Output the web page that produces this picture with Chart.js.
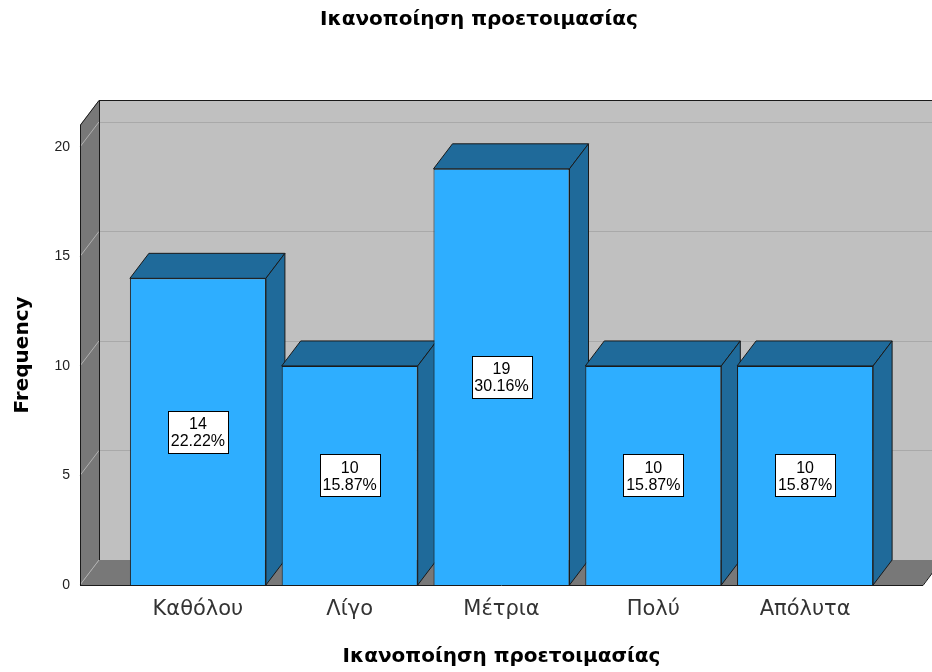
<!DOCTYPE html>
<html>
<head>
<meta charset="utf-8">
<script src="https://cdn.jsdelivr.net/npm/chart.js@4.4.1/dist/chart.umd.min.js"></script>
<style>
  html, body { margin: 0; padding: 0; background: #fff; }
</style>
</head>
<body>
<canvas id="freqChart" width="932" height="672"></canvas>
<script>
// Data
const categories = ['Καθόλου', 'Λίγο', 'Μέτρια', 'Πολύ', 'Απόλυτα'];
const counts = [14, 10, 19, 10, 10];
const percents = ['22.22%', '15.87%', '30.16%', '15.87%', '15.87%'];
const yStep = 5;
const yMax = 21;

const chartTitle = 'Ικανοποίηση προετοιμασίας';
const FONT = "'DejaVu Sans', sans-serif";
const ARIAL = "'Liberation Sans', Arial, sans-serif";

// 3D look
const depthX = 19, depthY = 25, wallGap = 42;
const colors = {
  front: '#2eaeff',
  shade: '#1f6a9a',
  backWall: '#c0c0c0',
  sideWall: '#787878',
  gridBack: '#a9a9a9',
  gridSide: '#b0b0b0',
  edge: '#1a1a1a'
};

function poly(ctx, pts, fill, stroke) {
  ctx.beginPath();
  ctx.moveTo(pts[0][0], pts[0][1]);
  for (let i = 1; i < pts.length; i++) ctx.lineTo(pts[i][0], pts[i][1]);
  ctx.closePath();
  if (fill) { ctx.fillStyle = fill; ctx.fill(); }
  if (stroke) { ctx.strokeStyle = stroke; ctx.lineWidth = 1; ctx.stroke(); }
}

const box3d = {
  id: 'box3d',
  beforeDatasetsDraw(chart) {
    const { ctx, chartArea: a, scales: { y } } = chart;
    const xl = a.left - wallGap, xr = a.right + wallGap;
    const y0 = y.getPixelForValue(0), yt = a.top;
    ctx.save();

    // back wall
    poly(ctx, [[xl + depthX, yt - depthY], [xr + depthX, yt - depthY],
               [xr + depthX, y0 - depthY], [xl + depthX, y0 - depthY]], colors.backWall);
    ctx.lineWidth = 1;
    ctx.strokeStyle = colors.gridBack;
    y.ticks.forEach(t => {
      if (t.value === 0) return;
      const py = Math.round(y.getPixelForValue(t.value) - depthY) + 0.5;
      ctx.beginPath();
      ctx.moveTo(xl + depthX, py);
      ctx.lineTo(xr + depthX, py);
      ctx.stroke();
    });

    // left wall
    poly(ctx, [[xl, yt], [xl + depthX, yt - depthY], [xl + depthX, y0 - depthY], [xl, y0]], colors.sideWall);
    // floor
    poly(ctx, [[xl, y0], [xl + depthX, y0 - depthY], [xr + depthX, y0 - depthY], [xr, y0]], colors.sideWall);

    ctx.strokeStyle = colors.gridSide;
    y.ticks.forEach(t => {
      const py = y.getPixelForValue(t.value);
      ctx.beginPath();
      ctx.moveTo(xl, py);
      ctx.lineTo(xl + depthX, py - depthY);
      ctx.stroke();
    });

    // frame edges
    ctx.strokeStyle = colors.edge;
    ctx.beginPath();
    ctx.moveTo(xl + 0.5, y0);
    ctx.lineTo(xl + 0.5, yt);
    ctx.lineTo(xl + depthX, yt - depthY + 0.5);
    ctx.lineTo(xr + depthX, yt - depthY + 0.5);
    ctx.moveTo(xl + depthX + 0.5, yt - depthY);
    ctx.lineTo(xl + depthX + 0.5, y0 - depthY);
    ctx.moveTo(xl, y0 + 0.5);
    ctx.lineTo(xr, y0 + 0.5);
    ctx.lineTo(xr + depthX, y0 - depthY);
    ctx.stroke();

    // bar tops and sides
    chart.getDatasetMeta(0).data.forEach(bar => {
      const { x, y: top, width, base } = bar.getProps(['x', 'y', 'width', 'base'], true);
      const l = x - width / 2, r = x + width / 2;
      poly(ctx, [[l, top], [l + depthX, top - depthY], [r + depthX, top - depthY], [r, top]], colors.shade, colors.edge);
      poly(ctx, [[r, top], [r + depthX, top - depthY], [r + depthX, base - depthY], [r, base]], colors.shade, colors.edge);
    });
    ctx.restore();
  },
  afterDatasetsDraw(chart) {
    const { ctx } = chart;
    ctx.save();
    ctx.font = '16px ' + ARIAL;
    ctx.textAlign = 'center';
    ctx.textBaseline = 'middle';
    chart.getDatasetMeta(0).data.forEach((bar, i) => {
      const { x, y: top, base } = bar.getProps(['x', 'y', 'base'], true);
      const cy = (top + base) / 2;
      const lines = [String(counts[i]), percents[i]];
      const w = Math.round(Math.max(...lines.map(s => ctx.measureText(s).width)) + 6);
      const h = 42;
      const bx = Math.round(x - w / 2) + 0.5, by = Math.round(cy - h / 2) + 0.5;
      ctx.fillStyle = '#fff';
      ctx.fillRect(bx, by, w, h);
      ctx.strokeStyle = '#000';
      ctx.lineWidth = 1;
      ctx.strokeRect(bx, by, w, h);
      ctx.fillStyle = '#000';
      ctx.fillText(lines[0], x, cy - 7);
      ctx.fillText(lines[1], x, cy + 10);
    });

    // chart title
    ctx.font = 'bold 20px ' + FONT;
    ctx.fillStyle = '#000';
    ctx.fillText(chartTitle, 479, 20);
    ctx.restore();
  }
};

const ctx = document.getElementById('freqChart').getContext('2d');
new Chart(ctx, {
  type: 'bar',
  data: {
    labels: categories,
    datasets: [{
      data: counts,
      backgroundColor: colors.front,
      borderColor: colors.edge,
      borderWidth: 1,
      categoryPercentage: 1,
      barPercentage: 0.896
    }]
  },
  options: {
    responsive: false,
    animation: false,
    devicePixelRatio: 1,
    layout: { padding: { top: 125, right: 51, left: 0, bottom: 0 } },
    plugins: {
      legend: { display: false },
      tooltip: { enabled: false },
      title: { display: false }
    },
    scales: {
      x: {
        grid: { display: false, drawTicks: false },
        border: { display: false },
        ticks: { font: { family: FONT, size: 21 }, color: '#333', padding: 12, maxRotation: 0 },
        title: {
          display: true,
          text: chartTitle,
          font: { family: FONT, size: 20, weight: 'bold' },
          color: '#000',
          padding: { top: 0, bottom: 3 }
        },
        afterFit: s => { s.height = 87; }
      },
      y: {
        min: 0,
        max: yMax,
        grid: { display: false, drawTicks: false },
        border: { display: false },
        ticks: { stepSize: yStep, includeBounds: false, padding: 52, font: { family: ARIAL, size: 14 }, color: '#222' },
        title: {
          display: true,
          text: 'Frequency',
          font: { family: FONT, size: 20, weight: 'bold' },
          color: '#000',
          padding: { top: 11, bottom: 0 }
        },
        afterFit: s => { s.width = 122; }
      }
    }
  },
  plugins: [box3d]
});
</script>
</body>
</html>
